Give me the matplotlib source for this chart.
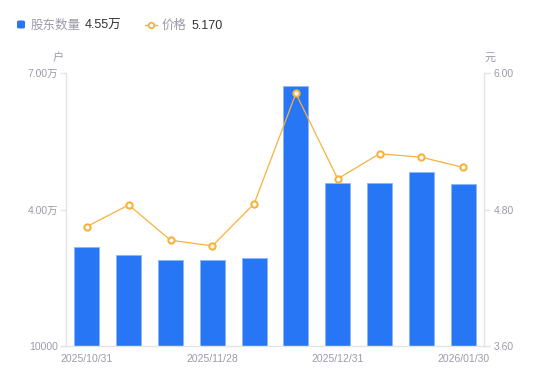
import matplotlib
matplotlib.use("Agg")
import matplotlib.pyplot as plt
from matplotlib.lines import Line2D
from matplotlib.patches import FancyBboxPatch

plt.rcParams['font.family'] = ['Liberation Sans', 'Noto Sans CJK SC', 'DejaVu Sans']

dates = ["2025/10/31", "2025/11/07", "2025/11/14", "2025/11/28", "2025/12/10",
         "2025/12/19", "2025/12/31", "2026/01/09", "2026/01/20", "2026/01/30"]
holders = [31700, 29930, 28900, 28900, 29280, 67100, 45760, 45890, 48240, 45500]
price = [4.65, 4.84, 4.53, 4.48, 4.85, 5.82, 5.07, 5.29, 5.26, 5.17]
shown_labels = ["2025/10/31", "2025/11/28", "2025/12/31", "2026/01/30"]
left_ticks = [10000, 40000, 70000]
left_ticklabels = ["10000", "4.00万", "7.00万"]
right_ticks = [3.60, 4.80, 6.00]
right_ticklabels = ["3.60", "4.80", "6.00"]

BLUE = "#2776F6"
ORANGE = "#F7B23B"
GRAY = "#9B9BAA"
AXC = "#E3E3E8"

fig = plt.figure(figsize=(5.5, 3.81), dpi=100)
ax = fig.add_axes([66/550, 1-346/381, (484-66)/550, (346-73)/381])
ax2 = ax.twinx()

x = list(range(len(dates)))
ax.bar(x, holders, width=0.6, color=BLUE, edgecolor="#8DB6FA", linewidth=0.6, zorder=2)
ax.set_xlim(-0.5, len(dates) - 0.5)
ax.set_ylim(10000, 70000)
ax.set_yticks(left_ticks)
ax.set_yticklabels(left_ticklabels)

ax2.plot(x, price, color=ORANGE, linewidth=0.9, marker="o", markersize=4.5,
         markerfacecolor="white", markeredgecolor=ORANGE, markeredgewidth=1.5, zorder=3)
ax2.set_ylim(3.6, 6.0)
ax2.set_yticks(right_ticks)
ax2.set_yticklabels(right_ticklabels)

ax.set_xticks([dates.index(d) for d in shown_labels])
ax.set_xticklabels(shown_labels)

for a in (ax, ax2):
    for s in a.spines.values():
        s.set_visible(False)
ax.spines['left'].set_visible(True)
ax.spines['bottom'].set_visible(True)
ax2.spines['right'].set_visible(True)
for s in (ax.spines['left'], ax.spines['bottom'], ax2.spines['right']):
    s.set_color(AXC)
    s.set_linewidth(1)

ax.tick_params(axis='y', colors=AXC, labelcolor=GRAY, labelsize=7.5, length=4, width=1, pad=1.5)
ax.tick_params(axis='x', length=0, labelcolor=GRAY, labelsize=7.5, pad=6)
ax2.tick_params(axis='y', colors=AXC, labelcolor=GRAY, labelsize=7.5, length=4, width=1, pad=3)

fig.text(58/550, 1-58/381, "户", color=GRAY, fontsize=8, ha='center', va='center')
fig.text(490/550, 1-58/381, "元", color=GRAY, fontsize=8, ha='center', va='center')

# legend
LY = 1 - 26/381
fig.patches.append(FancyBboxPatch((17/550, 1-28.5/381), 8/550, 8/381, transform=fig.transFigure,
                                  boxstyle="round,pad=0,rounding_size=0.004",
                                  facecolor=BLUE, edgecolor='none'))
fig.text(31/550, LY, "股东数量", color=GRAY, fontsize=9, va='center', ha='left')
fig.text(85/550, LY, "4.55万", color="#333333", fontsize=9, va='center', ha='left')
fig.lines.append(Line2D([145/550, 157/550], [1-24.5/381, 1-24.5/381], transform=fig.transFigure,
                        color=ORANGE, linewidth=1))
fig.lines.append(Line2D([151/550], [1-24.5/381], transform=fig.transFigure, color=ORANGE,
                        marker='o', markersize=4, markerfacecolor='white',
                        markeredgecolor=ORANGE, markeredgewidth=1.3, linestyle='none'))
fig.text(162/550, LY, "价格", color=GRAY, fontsize=9, va='center', ha='left')
fig.text(192/550, LY, "5.170", color="#333333", fontsize=9, va='center', ha='left')

fig.savefig("out.png", dpi=100)
